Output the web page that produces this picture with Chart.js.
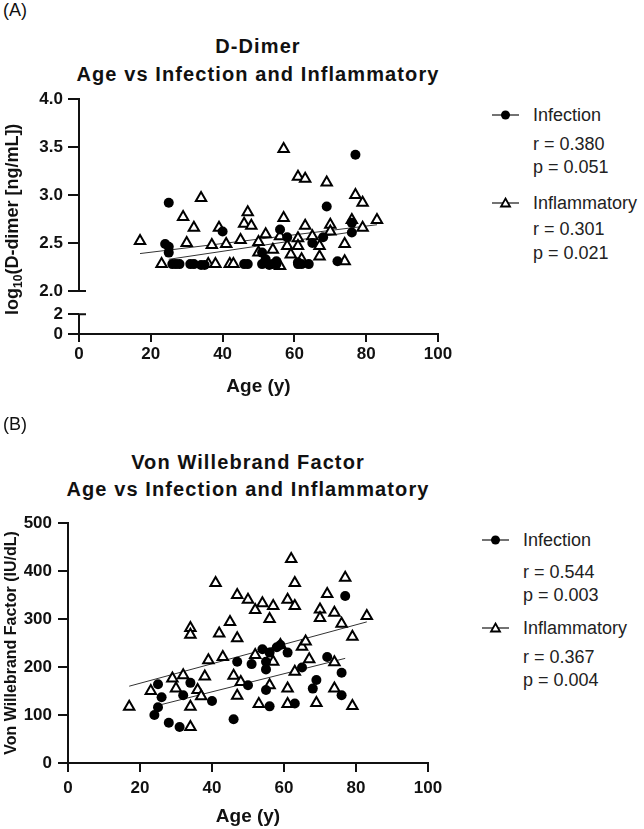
<!DOCTYPE html>
<html>
<head>
<meta charset="utf-8">
<script src="https://cdn.jsdelivr.net/npm/chart.js@4.4.1/dist/chart.umd.min.js"></script>
<style>
  html, body { margin: 0; padding: 0; background: #fff; }
  body { width: 644px; height: 829px; position: relative; overflow: hidden;
         font-family: 'Liberation Sans', Arial, Helvetica, sans-serif; color: #111; }
  canvas { position: absolute; left: 0; }
  .tag { position: absolute; left: 3px; font-size: 18px; line-height: 20px; }
  .title { position: absolute; width: 500px; text-align: center; font-weight: bold;
           font-size: 20px; letter-spacing: 1.1px; }
  .ytitle { position: absolute; width: 300px; text-align: center; font-weight: bold;
            font-size: 18px; line-height: 20px; transform: rotate(-90deg); }
  .lg { position: absolute; font-size: 18px; line-height: 20px; color: #222; white-space: nowrap; }
  .mk { position: absolute; }
</style>
</head>
<body>
<div class="tag" style="top:0px">(A)</div>
<div class="title" style="left:8px;top:32px;line-height:28px">D-Dimer<br>Age vs Infection and Inflammatory</div>
<canvas id="chartA" width="460" height="400" style="top:0px"></canvas>
<div class="ytitle" style="left:-135px;top:206px">log<sub style="font-size:12px">10</sub>(D-dimer [ng/mL])</div>

<svg class="mk" style="left:492px;top:108px" width="28" height="14"><line x1="0" y1="7" x2="27" y2="7" stroke="#444" stroke-width="1.5"/><circle cx="13.5" cy="7" r="4.5" fill="#000"/></svg>
<div class="lg" style="left:533px;top:105px">Infection</div>
<div class="lg" style="left:533px;top:134px">r = 0.380</div>
<div class="lg" style="left:533px;top:157px">p = 0.051</div>
<svg class="mk" style="left:492px;top:196px" width="28" height="14"><line x1="0" y1="7" x2="27" y2="7" stroke="#444" stroke-width="1.5"/><polygon points="13.5,2.5 18,10.5 9,10.5" fill="#fff" stroke="#000" stroke-width="1.8"/></svg>
<div class="lg" style="left:533px;top:193px">Inflammatory</div>
<div class="lg" style="left:533px;top:219px">r = 0.301</div>
<div class="lg" style="left:533px;top:243px">p = 0.021</div>

<div class="tag" style="top:414px">(B)</div>
<div class="title" style="left:-2px;top:449px;line-height:26.5px">Von Willebrand Factor<br>Age vs Infection and Inflammatory</div>
<canvas id="chartB" width="460" height="409" style="top:420px"></canvas>

<svg class="mk" style="left:482px;top:533px" width="28" height="14"><line x1="0" y1="7" x2="27" y2="7" stroke="#444" stroke-width="1.5"/><circle cx="13.5" cy="7" r="4.5" fill="#000"/></svg>
<div class="lg" style="left:523px;top:530px">Infection</div>
<div class="lg" style="left:523px;top:562px">r = 0.544</div>
<div class="lg" style="left:523px;top:585px">p = 0.003</div>
<svg class="mk" style="left:482px;top:621px" width="28" height="14"><line x1="0" y1="7" x2="27" y2="7" stroke="#444" stroke-width="1.5"/><polygon points="13.5,2.5 18,10.5 9,10.5" fill="#fff" stroke="#000" stroke-width="1.8"/></svg>
<div class="lg" style="left:523px;top:618px">Inflammatory</div>
<div class="lg" style="left:523px;top:647px">r = 0.367</div>
<div class="lg" style="left:523px;top:670px">p = 0.004</div>

<script>
// ---- Panel A: D-dimer (log10 ng/mL) vs age ----
const infAgeA = [24, 25, 25, 25, 26, 27, 28, 31, 32, 34, 35, 40, 46, 47, 51, 51, 52, 53, 54, 55, 55, 56, 58, 61, 61, 62, 64, 65, 68, 69, 72, 76, 76, 77];
const infValA = [2.49, 2.46, 2.40, 2.92, 2.28, 2.28, 2.28, 2.28, 2.28, 2.27, 2.27, 2.62, 2.28, 2.28, 2.40, 2.28, 2.33, 2.27, 2.28, 2.31, 2.28, 2.64, 2.56, 2.30, 2.28, 2.28, 2.28, 2.50, 2.56, 2.88, 2.31, 2.71, 2.61, 3.42];
const inflAgeA = [17, 23, 29, 30, 32, 34, 36, 37, 38, 39, 41, 42, 43, 45, 46, 47, 48, 50, 50, 52, 54, 56, 56, 57, 57, 58, 59, 61, 61, 61, 62, 63, 63, 65, 67, 67, 69, 70, 70, 74, 74, 76, 77, 79, 79, 83];
const inflValA = [2.52, 2.28, 2.77, 2.50, 2.66, 2.97, 2.28, 2.48, 2.28, 2.66, 2.49, 2.28, 2.28, 2.53, 2.70, 2.82, 2.68, 2.51, 2.40, 2.59, 2.43, 2.57, 2.26, 3.48, 2.76, 2.47, 2.38, 3.19, 2.55, 2.47, 2.33, 3.17, 2.68, 2.57, 2.47, 2.36, 3.13, 2.69, 2.62, 2.49, 2.31, 2.74, 3.00, 2.92, 2.66, 2.74];
// fitted lines (end points)
const infFitAgeA = [25, 77];
const infFitValA = [2.33, 2.62];
const inflFitAgeA = [17, 83];
const inflFitValA = [2.39, 2.69];

// ---- Panel B: von Willebrand factor (IU/dL) vs age ----
const infAgeB = [24, 25, 25, 26, 28, 31, 32, 34, 40, 46, 47, 50, 51, 54, 55, 55, 55, 56, 56, 58, 59, 61, 63, 65, 68, 69, 72, 76, 76, 77];
const infValB = [100, 116, 164, 137, 84, 75, 141, 167, 129, 91, 211, 162, 206, 237, 211, 195, 152, 230, 118, 241, 246, 230, 124, 199, 155, 173, 221, 188, 141, 348];
const inflAgeB = [17, 23, 29, 30, 32, 34, 34, 34, 34, 36, 37, 38, 39, 41, 42, 43, 45, 46, 47, 47, 47, 48, 50, 52, 52, 53, 54, 56, 56, 57, 57, 59, 61, 61, 61, 62, 63, 63, 63, 65, 66, 67, 69, 70, 70, 72, 74, 74, 74, 76, 77, 79, 79, 83];
const inflValB = [117, 150, 176, 155, 183, 281, 267, 117, 75, 152, 139, 180, 214, 375, 270, 221, 294, 182, 350, 260, 140, 169, 340, 319, 225, 123, 333, 300, 162, 327, 211, 246, 340, 155, 123, 425, 375, 327, 190, 242, 253, 216, 125, 320, 302, 352, 313, 210, 155, 290, 386, 263, 119, 306];
const infFitAgeB = [25, 77];
const infFitValB = [120, 218];
const inflFitAgeB = [17, 83];
const inflFitValB = [160, 294];

const xTicks = [0, 20, 40, 60, 80, 100];
const yTicksA = [2.0, 2.5, 3.0, 3.5, 4.0];
const yTicksABreak = [0, 2];
const yTicksB = [0, 100, 200, 300, 400, 500];

Chart.defaults.font.family = "'Liberation Sans', Arial, Helvetica, sans-serif";
Chart.defaults.color = '#111';

const ink = '#111';
const pts = (xs, ys) => xs.map((x, i) => ({ x: x, y: ys[i] }));

function pointSets(infX, infY, inflX, inflY, fitInfX, fitInfY, fitInflX, fitInflY, axisId) {
    return [
        { label: 'Infection', data: pts(infX, infY), yAxisID: axisId,
          pointStyle: 'circle', pointRadius: 5, backgroundColor: '#000', borderColor: '#000', borderWidth: 0 },
        { label: 'Inflammatory', data: pts(inflX, inflY), yAxisID: axisId,
          pointStyle: 'triangle', pointRadius: 6, backgroundColor: '#fff', borderColor: '#000', borderWidth: 2 },
        { label: 'Infection fit', data: pts(fitInfX, fitInfY), yAxisID: axisId, showLine: true,
          pointRadius: 0, borderColor: '#333', borderWidth: 1 },
        { label: 'Inflammatory fit', data: pts(fitInflX, fitInflY), yAxisID: axisId, showLine: true,
          pointRadius: 0, borderColor: '#333', borderWidth: 1 }
    ];
}

function xScale(height, tickLen, pad) {
    return {
        type: 'linear', min: 0, max: 100,
        afterBuildTicks: s => { s.ticks = xTicks.map(v => ({ value: v })); },
        ticks: { font: { size: 17, weight: 'bold' }, padding: pad, color: ink },
        grid: { drawOnChartArea: false, tickLength: tickLen, color: ink, lineWidth: 2 },
        border: { color: ink, width: 2 },
        title: { display: true, text: 'Age (y)', font: { size: 19, weight: 'bold' }, color: ink, padding: { top: 0, bottom: 1 } },
        afterFit: s => { s.height = height; }
    };
}

// draws the split y axis line of panel A with its end caps
const brokenAxis = {
    id: 'brokenAxis',
    afterDraw(chart) {
        const { ctx, scales: { x, yTop, yBot } } = chart;
        const ax = x.getPixelForValue(0);
        ctx.save();
        ctx.strokeStyle = ink;
        ctx.lineWidth = 2;
        ctx.beginPath();
        ctx.moveTo(ax, yTop.getPixelForValue(4) - 1);
        ctx.lineTo(ax, yTop.getPixelForValue(2));
        ctx.moveTo(ax, yBot.getPixelForValue(2));
        ctx.lineTo(ax, yBot.getPixelForValue(0));
        ctx.moveTo(ax - 1, yTop.getPixelForValue(2));
        ctx.lineTo(ax + 7, yTop.getPixelForValue(2));
        ctx.moveTo(ax - 1, yBot.getPixelForValue(2));
        ctx.lineTo(ax + 7, yBot.getPixelForValue(2));
        ctx.stroke();
        ctx.restore();
    }
};

new Chart(document.getElementById('chartA'), {
    type: 'scatter',
    data: { datasets: pointSets(infAgeA, infValA, inflAgeA, inflValA, infFitAgeA, infFitValA, inflFitAgeA, inflFitValA, 'yTop') },
    options: {
        responsive: false,
        animation: false,
        layout: { padding: { top: 99, right: 22, left: 0, bottom: 1 } },
        plugins: { legend: { display: false }, tooltip: { enabled: false } },
        scales: {
            x: xScale(65, 8, 2),
            yBot: {
                type: 'linear', position: 'left', stack: 'ax', stackWeight: 43, min: 0, max: 4.33,
                afterBuildTicks: s => { s.ticks = yTicksABreak.map(v => ({ value: v })); },
                ticks: { font: { size: 17, weight: 'bold' }, padding: 5, color: ink },
                grid: { drawOnChartArea: false, tickLength: 11, color: ink, lineWidth: 2 },
                border: { display: false },
                afterFit: s => { s.width = 79; }
            },
            yTop: {
                type: 'linear', position: 'left', stack: 'ax', stackWeight: 192, min: 2, max: 4,
                afterBuildTicks: s => { s.ticks = yTicksA.map(v => ({ value: v })); },
                ticks: { font: { size: 17, weight: 'bold' }, padding: 5, color: ink, callback: v => v.toFixed(1) },
                grid: { drawOnChartArea: false, tickLength: 11, color: ink, lineWidth: 2 },
                border: { display: false },
                afterFit: s => { s.width = 79; }
            }
        }
    },
    plugins: [brokenAxis]
});

new Chart(document.getElementById('chartB'), {
    type: 'scatter',
    data: { datasets: pointSets(infAgeB, infValB, inflAgeB, inflValB, infFitAgeB, infFitValB, inflFitAgeB, inflFitValB, 'y') },
    options: {
        responsive: false,
        animation: false,
        layout: { padding: { top: 103, right: 32, left: 0, bottom: 0 } },
        plugins: { legend: { display: false }, tooltip: { enabled: false } },
        scales: {
            x: xScale(66, 9, 6),
            y: {
                type: 'linear', position: 'left', min: 0, max: 500,
                afterBuildTicks: s => { s.ticks = yTicksB.map(v => ({ value: v })); },
                ticks: { font: { size: 17, weight: 'bold' }, padding: 6, color: ink },
                grid: { drawOnChartArea: false, tickLength: 10, color: ink, lineWidth: 2 },
                border: { color: ink, width: 2 },
                title: { display: true, text: 'Von Willebrand Factor (IU/dL)', font: { size: 16, weight: 'bold' }, color: ink, padding: { top: 2, bottom: 0 } },
                afterFit: s => { s.width = 68; }
            }
        }
    }
});
</script>
</body>
</html>
